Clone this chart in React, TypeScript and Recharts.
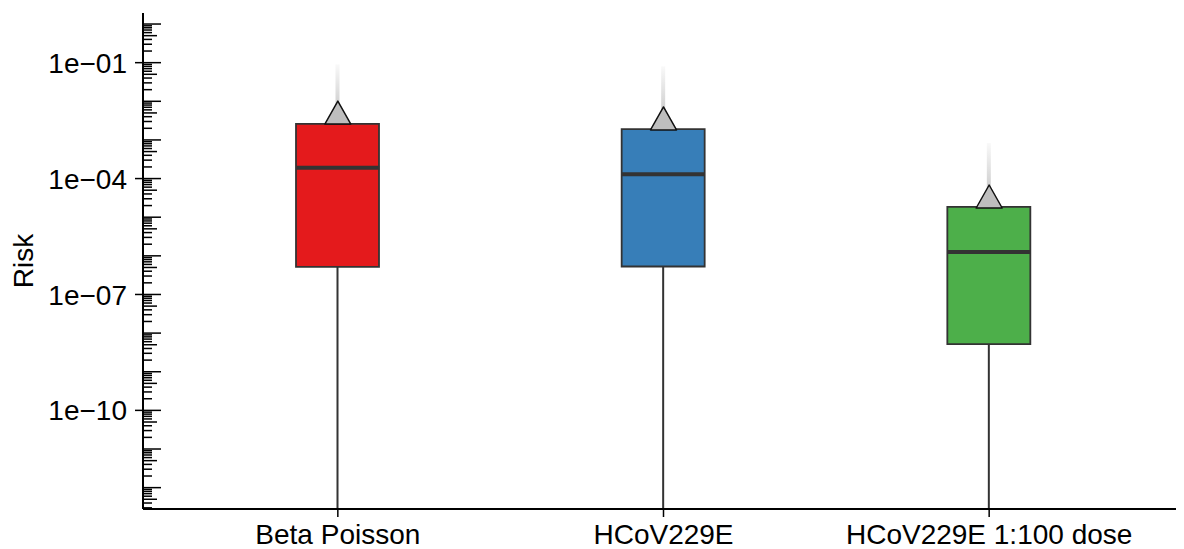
import { ComposedChart, Bar, Scatter, XAxis, YAxis, Cell, Label } from 'recharts';

// box plot summary per scenario (risk, log scale)
const categories = ['Beta Poisson', 'HCoV229E', 'HCoV229E 1:100 dose'];
const whiskerLow = [1e-14, 1e-14, 1e-14];
const lowerQuartile = [5.2e-7, 5.3e-7, 5.2e-9];
const medians = [1.9e-4, 1.3e-4, 1.26e-6];
const upperQuartile = [2.6e-3, 1.9e-3, 1.84e-5];
const means = [4.4e-3, 3.1e-3, 2.96e-5];
const outlierMax = [0.09, 0.08, 8.3e-4];

// axis ticks
const majorTicks = [1e0, 1e-1, 1e-2, 1e-3, 1e-4, 1e-5, 1e-6, 1e-7, 1e-8, 1e-9, 1e-10, 1e-11, 1e-12, 1e-13];
const minorSteps = [2, 3, 4, 5, 6, 7, 8, 9];
const labeledTicks = [1e-1, 1e-4, 1e-7, 1e-10];
const tickLabels = ['1e\u221201', '1e\u221204', '1e\u221207', '1e\u221210'];

const COLORS = ['#E41A1C', '#377EB8', '#4DAF4A'];
const FONT = '"Liberation Sans", Arial, Helvetica, sans-serif';
const DOMAIN: [number, number] = [2.8e-13, 1.93];
const BOX_W = 83;

const allTicks = majorTicks
  .flatMap((m) => [m, ...minorSteps.map((s) => m * s)])
  .filter((v) => v >= DOMAIN[0] && v <= DOMAIN[1]);

const data = categories.map((name, i) => ({
  name,
  whisker: [whiskerLow[i], lowerQuartile[i]],
  box: [lowerQuartile[i], upperQuartile[i]],
  strip: [upperQuartile[i], outlierMax[i]],
  median: medians[i],
  mean: means[i],
}));

function mantissa(v: number) {
  const e = Math.floor(Math.log10(v) + 1e-9);
  return Math.round(v / Math.pow(10, e));
}

function YTick(props: any) {
  const { x, y, payload } = props;
  const v = payload.value;
  const m = mantissa(v);
  const li = labeledTicks.findIndex((t) => Math.abs(t - v) / t < 1e-6);
  const len = m === 1 ? 18 : m === 5 ? 14 : 9;
  return (
    <g>
      <line x1={li >= 0 ? x - 8 : x} x2={x + len} y1={y} y2={y} stroke="#000" strokeWidth={1.5} />
      {li >= 0 && (
        <text x={x - 16} y={y} dy="0.36em" textAnchor="end" fontSize={28} fontFamily={FONT} fill="#000">
          {tickLabels[li]}
        </text>
      )}
    </g>
  );
}

function XTick(props: any) {
  const { x, y, payload } = props;
  return (
    <g>
      <line x1={x} x2={x} y1={y} y2={y + 8} stroke="#000" strokeWidth={1.5} />
      <text x={x} y={y + 35} textAnchor="middle" fontSize={28} fontFamily={FONT} fill="#000">
        {payload.value}
      </text>
    </g>
  );
}

function Whisker(props: any) {
  const { x, y, width, height } = props;
  const cx = x + width / 2;
  return <line x1={cx} x2={cx} y1={y} y2={y + height} stroke="#333" strokeWidth={2} />;
}

function Strip(props: any) {
  const { x, y, width, height, index } = props;
  const cx = x + width / 2;
  const id = `strip-${index}`;
  return (
    <g>
      <defs>
        <linearGradient id={id} x1="0" y1="0" x2="0" y2="1">
          <stop offset="0%" stopColor="#888" stopOpacity={0.05} />
          <stop offset="100%" stopColor="#888" stopOpacity={0.55} />
        </linearGradient>
      </defs>
      <rect x={cx - 2} y={y} width={4} height={height} fill={`url(#${id})`} />
    </g>
  );
}

function MedianLine(props: any) {
  const { cx, cy } = props;
  return <line x1={cx - BOX_W / 2} x2={cx + BOX_W / 2} y1={cy} y2={cy} stroke="#333" strokeWidth={4} />;
}

function MeanTriangle(props: any) {
  const { cx, cy } = props;
  const pts = `${cx},${cy - 14} ${cx - 13},${cy + 9} ${cx + 13},${cy + 9}`;
  return <polygon points={pts} fill="#BEBEBE" stroke="#111" strokeWidth={1.5} strokeLinejoin="round" />;
}

export default function App() {
  const pad = { left: 32, right: 32 };
  return (
    <ComposedChart width={1176} height={541} data={data} margin={{ top: 5, right: 0, bottom: 0, left: 0 }}>
      <XAxis
        dataKey="name"
        padding={pad}
        height={40}
        axisLine={{ stroke: '#000', strokeWidth: 2 }}
        tickLine={false}
        tickSize={0}
        tickMargin={0}
        tick={<XTick />}
        interval={0}
      />
      <XAxis xAxisId="w" dataKey="name" padding={pad} hide />
      <XAxis xAxisId="s" dataKey="name" padding={pad} hide />
      <YAxis
        scale="log"
        domain={DOMAIN}
        allowDataOverflow
        ticks={allTicks}
        interval={0}
        width={135}
        axisLine={{ stroke: '#000', strokeWidth: 2 }}
        tickLine={false}
        tickSize={0}
        tickMargin={0}
        tick={<YTick />}
      >
        <Label
          content={(p: any) => {
            const vb = p.viewBox;
            const cx = vb.x + 15;
            const cy = vb.y + vb.height / 2;
            return (
              <text
                x={cx}
                y={cy}
                transform={`rotate(-90, ${cx}, ${cy})`}
                textAnchor="middle"
                dominantBaseline="central"
                fontSize={28}
                fontFamily={FONT}
                fill="#000"
              >
                Risk
              </text>
            );
          }}
        />
      </YAxis>
      <Bar xAxisId="w" dataKey="whisker" barSize={BOX_W} shape={<Whisker />} isAnimationActive={false} />
      <Bar xAxisId="s" dataKey="strip" barSize={BOX_W} shape={<Strip />} isAnimationActive={false} />
      <Bar dataKey="box" barSize={BOX_W} stroke="#333" strokeWidth={1.8} isAnimationActive={false}>
        {data.map((d, i) => (
          <Cell key={d.name} fill={COLORS[i]} />
        ))}
      </Bar>
      <Scatter dataKey="median" shape={<MedianLine />} isAnimationActive={false} />
      <Scatter dataKey="mean" shape={<MeanTriangle />} isAnimationActive={false} />
    </ComposedChart>
  );
}
